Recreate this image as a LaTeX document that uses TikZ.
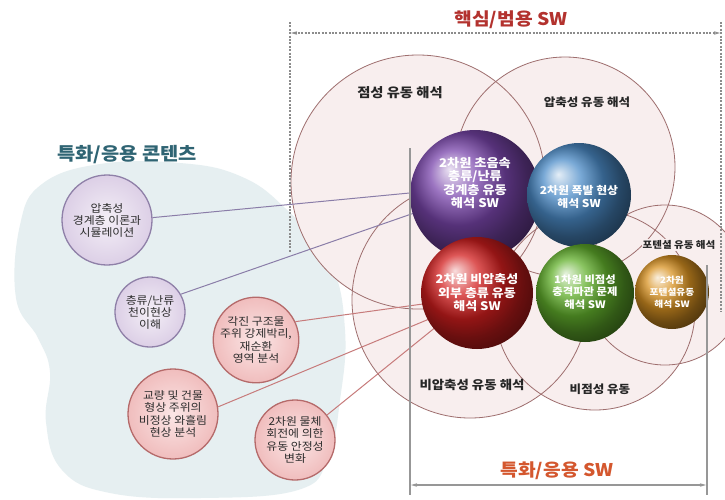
\documentclass[tikz,border=0pt]{standalone}
\usepackage{fontspec}
\setmainfont[FakeStretch=1.1]{Noto Sans CJK KR}
\usetikzlibrary{arrows.meta}
\definecolor{bigfill}{HTML}{F8EEEE}
\definecolor{bigline}{HTML}{9E6E6E}
\definecolor{blobc}{HTML}{E6EFF1}
\definecolor{titlered}{HTML}{B3322E}
\definecolor{titleorange}{HTML}{D4572E}
\definecolor{titleteal}{HTML}{2F6473}
\definecolor{lavin}{HTML}{F4EFF7}
\definecolor{lavout}{HTML}{DCCFE6}
\definecolor{lavline}{HTML}{8F80A8}
\definecolor{pinkin}{HTML}{FBE6E6}
\definecolor{pinkout}{HTML}{F0BDBD}
\definecolor{pinkline}{HTML}{B56A6A}
\definecolor{plinkc}{HTML}{8A7DA8}
\definecolor{rlinkc}{HTML}{C77B7B}
\definecolor{bracketc}{HTML}{8C8C8C}
\definecolor{ballpurple}{RGB}{122,70,172}
\definecolor{ballblue}{RGB}{76,140,200}
\definecolor{ballred}{RGB}{210,30,30}
\definecolor{ballgreen}{RGB}{98,176,44}
\definecolor{ballorange}{RGB}{216,146,34}
\definecolor{smalltext}{HTML}{2C2C2C}
\begin{document}
\begin{tikzpicture}[x=1pt,y=-1pt,
  bigc/.style={fill=bigfill},
  bigb/.style={draw=bigline,line width=0.8pt},
  biglabel/.style={text=black!85},
  lavc/.style={circle,inner sep=0pt,draw=lavline,line width=1.3pt,shading=radial,inner color=lavin,outer color=lavout,align=center,text=smalltext,font=\fontsize{10.8}{12}\selectfont},
  pinkc/.style={circle,inner sep=0pt,draw=pinkline,line width=1.3pt,shading=radial,inner color=pinkin,outer color=pinkout,align=center,text=smalltext,font=\fontsize{10.8}{12.4}\selectfont},
  plink/.style={draw=plinkc,line width=1pt},
  rlink/.style={draw=rlinkc,line width=1pt},
  sphere/.style={circle,inner sep=0pt},
  balltext/.style={align=center,text=white},
  dotline/.style={draw=bracketc,line width=1.2pt,dash pattern=on 2pt off 1.4pt},
  solidline/.style={draw=bracketc!90,line width=1.2pt},
  tips/.style={{Stealth[length=6pt,width=3.5pt]}-{Stealth[length=6pt,width=3.5pt]}}
]
\useasboundingbox (0,0) rectangle (725,499);
\fill[white] (0,0) rectangle (725,499);
\begin{scope}
\clip (0,0) rectangle (725,499);
% left blob
\fill[blobc] plot[smooth cycle,tension=0.7] coordinates {
 (20,225) (42,184) (100,164) (180,163) (240,176) (285,208) (330,262) (345,330)
 (340,400) (328,458) (298,490) (200,498) (110,493) (62,470) (46,422) (50,372)
 (38,338) (16,298)};
% big circles fills
\fill[bigc] (418,182) circle[radius=127];
\fill[bigc] (565,167) circle[radius=110];
\fill[bigc] (470,300) circle[radius=118];
\fill[bigc] (595,310) circle[radius=100];
\fill[bigc] (665,285) circle[radius=80];
% borders
\draw[bigb] (418,182) circle[radius=127];
\draw[bigb] (565,167) circle[radius=110];
\draw[bigb] (470,300) circle[radius=118];
\draw[bigb] (595,310) circle[radius=100];
\draw[bigb] (665,285) circle[radius=80];
\end{scope}
% big circle labels
\node[biglabel,font=\fontsize{13}{15}\selectfont\bfseries] (lvisc) at (400,93) {점성 유동 해석};
\node[biglabel,font=\fontsize{11.4}{13}\selectfont\bfseries] (lcomp) at (587,102) {압축성 유동 해석};
\node[biglabel,fill=bigfill,inner sep=1pt,font=\fontsize{9.6}{11}\selectfont\bfseries] (lpot) at (679,245) {포텐셜 유동 해석};
\node[biglabel,font=\fontsize{12.2}{14}\selectfont\bfseries] (lincomp) at (472,385) {비압축성 유동 해석};
\node[biglabel,font=\fontsize{11.4}{13}\selectfont\bfseries] (linvisc) at (600,389) {비점성 유동};
% titles
\node[font=\fontsize{17.5}{20}\selectfont\bfseries,text=titlered] (tcore) at (511,20) {핵심/범용 SW};
\node[font=\fontsize{17.5}{20}\selectfont\bfseries,text=titleorange] (tspecsw) at (557,471) {특화/응용 SW};
\node[font=\fontsize{18}{21}\selectfont\bfseries,text=titleteal] (tcont) at (127,155) {특화/응용 콘텐츠};
% small circles
\node[lavc,minimum size=90pt] (s1) at (107,220) {압축성\\경계층 이론과\\시뮬레이션};
\node[lavc,minimum size=70pt] (s2) at (150,312) {층류/난류\\천이현상\\이해};
\node[pinkc,minimum size=78pt] (s3) at (256,340) {각진 구조물\\주위 강제박리,\\재순환\\영역 분석};
\node[pinkc,minimum size=90pt] (s4) at (173,414) {교량 및 건물\\형상 주위의\\비정상 와흘림\\현상 분석};
\node[pinkc,minimum size=80pt] (s5) at (295,440) {2차원 물체\\회전에 의한\\유동 안정성\\변화};
% connector ends
\coordinate (e1) at (420,192);
\coordinate (e2) at (420,211);
\coordinate (e3) at (430,303);
\coordinate (e4) at (434,317);
\coordinate (e5) at (442,322);
\draw[plink] (s1.3) -- (e1);
\draw[plink] (s2.30) -- (e2);
\draw[rlink] (s3.25) -- (e3);
\draw[rlink] (s4.9) -- (e4);
\draw[rlink] (s5.38) -- (e5);
% spheres
\node[sphere,ball color=ballpurple,minimum size=130pt] (pu) at (475,195) {};
\node[balltext,font=\fontsize{12}{13.5}\selectfont\bfseries] (tpu) at (475,183) {2차원 초음속\\층류/난류\\경계층 유동\\해석 SW};
\node[sphere,ball color=ballblue,minimum size=104pt] (bl) at (579,195) {};
\node[balltext,font=\fontsize{10.8}{12.5}\selectfont\bfseries] (tbl) at (579,197) {2차원 폭발 현상\\해석 SW};
\node[sphere,ball color=ballred,minimum size=112pt] (re) at (477,293) {};
\node[balltext,font=\fontsize{11.8}{13.5}\selectfont\bfseries] (tre) at (477,293) {2차원 비압축성\\외부 층류 유동\\해석 SW};
\node[sphere,ball color=ballgreen,minimum size=98pt] (gr) at (585,293) {};
\node[balltext,font=\fontsize{10.3}{12.5}\selectfont\bfseries] (tgr) at (585,292) {1차원 비점성\\충격파관 문제\\해석 SW};
\node[sphere,ball color=ballorange,minimum size=74pt] (or) at (672,292) {};
\node[balltext,font=\fontsize{8.8}{12}\selectfont\bfseries] (tor) at (672,292) {2차원\\포텐셜유동\\해석 SW};
% top bracket (dotted)
\coordinate (ta) at (290,22);
\coordinate (tb) at (290,252);
\coordinate (tc) at (721,22);
\coordinate (td) at (721,312);
\coordinate (tl) at (291,33);
\coordinate (tr) at (720,33);
\draw[dotline] (ta) -- (tb);
\draw[dotline] (tc) -- (td);
\draw[dotline,tips] (tl) -- (tr);
% bottom bracket (solid)
\coordinate (ba) at (410,148);
\coordinate (bb) at (410,495);
\coordinate (bc) at (707,265);
\coordinate (bd) at (707,495);
\coordinate (bl1) at (411,485);
\coordinate (br1) at (706,485);
\draw[solidline] (ba) -- (bb);
\draw[solidline] (bc) -- (bd);
\draw[solidline,tips] (bl1) -- (br1);
\end{tikzpicture}
\end{document}
